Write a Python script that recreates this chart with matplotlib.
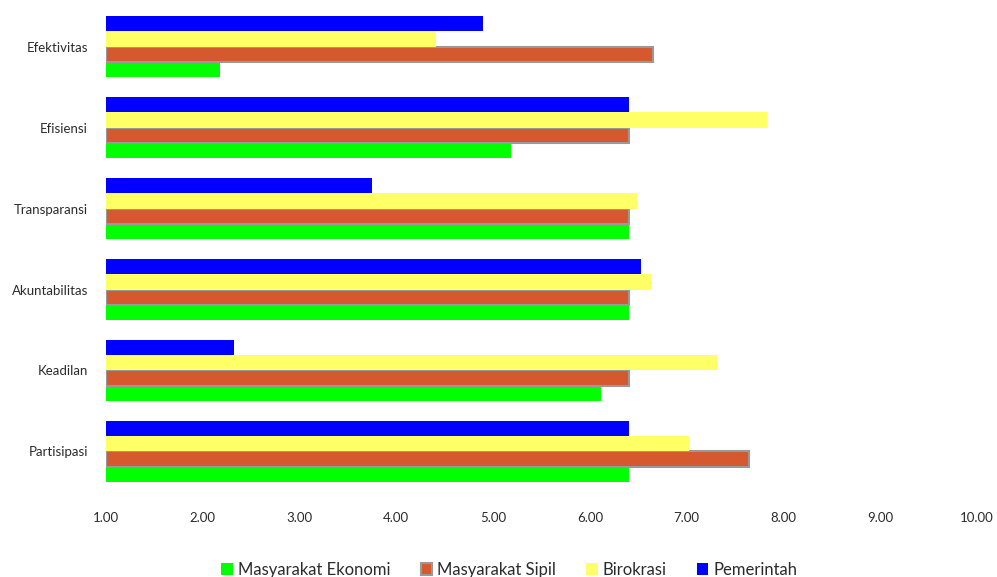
import matplotlib
matplotlib.use("Agg")
import matplotlib.pyplot as plt
import numpy as np

# categories bottom -> top
categories = ["Partisipasi", "Keadilan", "Akuntabilitas", "Transparansi", "Efisiensi", "Efektivitas"]
series_names = ["Masyarakat Ekonomi", "Masyarakat Sipil", "Birokrasi", "Pemerintah"]

masy_ekonomi = [6.40, 6.11, 6.40, 6.40, 5.18, 2.18]
masy_sipil = [7.64, 6.40, 6.40, 6.40, 6.40, 6.65]
birokrasi = [7.02, 7.31, 6.63, 6.49, 7.83, 4.41]
pemerintah = [6.40, 2.32, 6.53, 3.75, 6.40, 4.90]

x_ticks = [1, 2, 3, 4, 5, 6, 7, 8, 9, 10]

colors = ["#00FF00", "#D6582E", "#FFFF66", "#0000FF"]
edges = ["none", "#999999", "none", "none"]

plt.rcParams['font.family'] = ['Lato', 'DejaVu Sans']

fig = plt.figure(figsize=(9.97, 5.77), dpi=100)
ax = fig.add_axes([0.1063, 0.1646, 0.8736, 0.8077])

y = np.arange(len(categories))
h = 0.188
base = 1.0
all_series = [masy_ekonomi, masy_sipil, birokrasi, pemerintah]
for i, (name, vals) in enumerate(zip(series_names, all_series)):
    offs = (i - 1.5) * h
    vals = np.array(vals)
    ax.barh(y + offs, vals - base, left=base, height=h, color=colors[i],
            edgecolor=edges[i], linewidth=1.5 if edges[i] != "none" else 0,
            label=name)

ax.set_xlim(1, 10)
ax.set_ylim(-0.377, 5.377)
ax.set_xticks(x_ticks)
ax.set_xticklabels(["%.2f" % t for t in x_ticks])
ax.set_yticks(y)
ax.set_yticklabels(categories)
ax.tick_params(axis='x', length=0, pad=21.5, labelsize=9.5, labelcolor='#2b2b2b')
ax.tick_params(axis='y', length=0, pad=13, labelsize=9.5, labelcolor='#2b2b2b')
for s in ax.spines.values():
    s.set_visible(False)

ax.legend(loc='center', bbox_to_anchor=(0.511, 0.012), bbox_transform=fig.transFigure,
          ncol=4, frameon=False, fontsize=12, handlelength=0.7, handleheight=0.7,
          handletextpad=0.3, columnspacing=1.8, labelcolor='#2b2b2b')

fig.savefig("out.png", dpi=100)
